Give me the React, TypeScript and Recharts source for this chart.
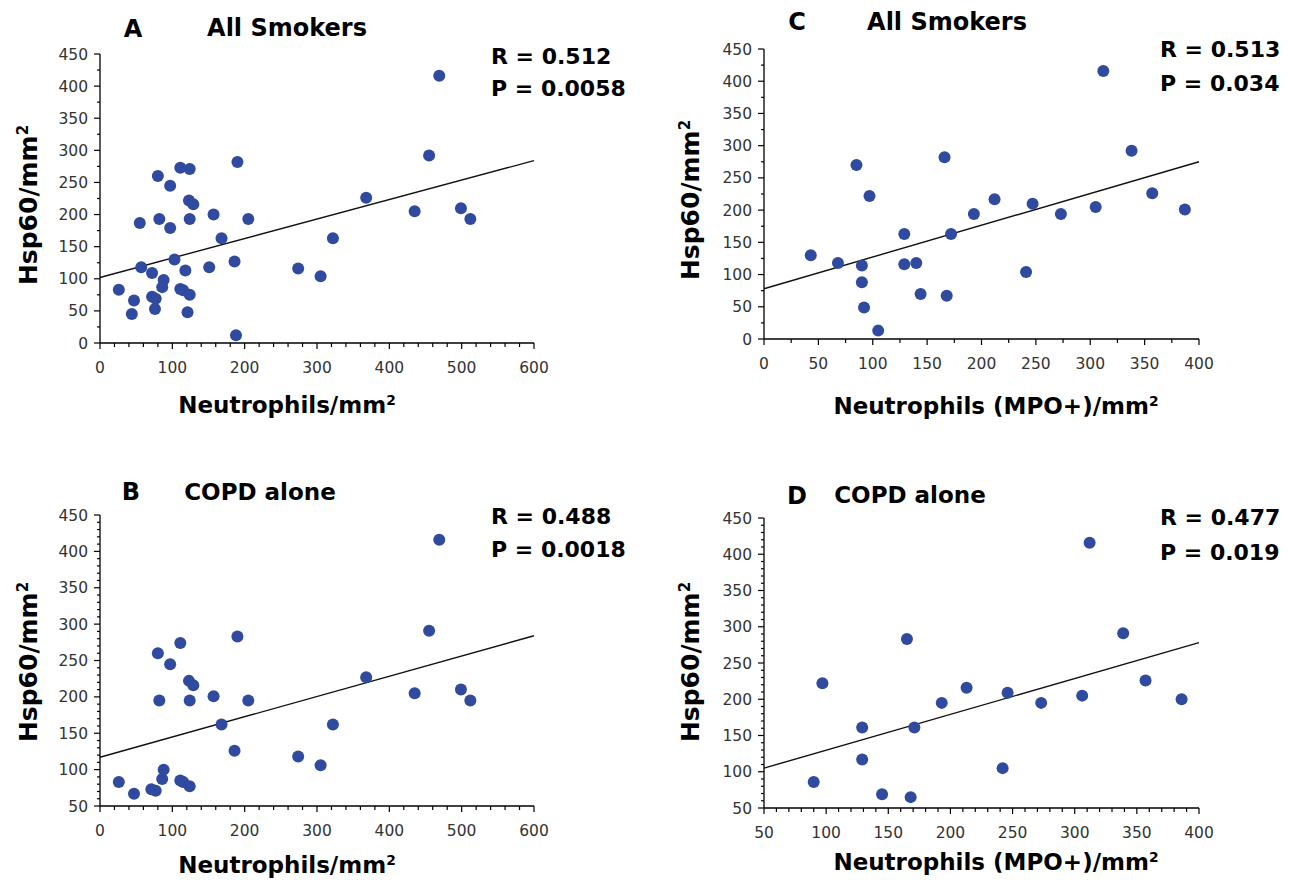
import React from 'react';
import { ScatterChart, Scatter, XAxis, YAxis, ReferenceLine } from 'recharts';

const W = 1289;
const H = 885;
const FONT = '"DejaVu Sans", "Liberation Sans", Arial, sans-serif';
const DOT = '#2F4A9E';

// Panel A: All Smokers, Neutrophils/mm2 vs Hsp60/mm2
const aX = [469, 455, 190, 111, 124, 80, 97, 123, 129, 368, 435, 499, 512, 157, 205, 124, 82, 55, 97, 168, 322, 103, 186, 57, 151, 274, 118, 72, 305, 88, 86, 26, 111, 115, 124, 72, 77, 47, 76, 121, 44, 188];
const aY = [416, 292, 282, 273, 271, 260, 245, 222, 216, 226, 205, 210, 193, 200, 193, 193, 193, 187, 179, 163, 163, 130, 127, 118, 118, 116, 113, 109, 104, 98, 87, 83, 84, 82, 75, 72, 69, 66, 53, 48, 45, 12];
const aLineX = [0, 600];
const aLineY = [102, 284];

// Panel B: COPD alone, Neutrophils/mm2
const bX = [469, 455, 190, 111, 80, 97, 123, 129, 368, 435, 499, 512, 157, 205, 124, 82, 168, 322, 186, 274, 305, 88, 86, 26, 111, 115, 124, 71, 77, 47];
const bY = [416, 291, 283, 274, 260, 245, 222, 216, 227, 205, 210, 195, 201, 195, 195, 195, 162, 162, 126, 118, 106, 100, 87, 83, 85, 83, 77, 73, 71, 67];
const bLineX = [0, 600];
const bLineY = [117, 284];

// Panel C: All Smokers, Neutrophils (MPO+)/mm2
const cX = [312, 338, 166, 85, 97, 357, 212, 247, 193, 273, 305, 387, 129, 172, 43, 68, 90, 129, 140, 90, 241, 144, 168, 92, 105];
const cY = [416, 292, 282, 270, 222, 226, 217, 210, 194, 194, 205, 201, 163, 163, 130, 118, 114, 116, 118, 88, 104, 70, 67, 49, 13];
const cLineX = [0, 400];
const cLineY = [78, 275];

// Panel D: COPD alone, Neutrophils (MPO+)/mm2
const dX = [312, 339, 165, 97, 357, 213, 246, 193, 273, 306, 386, 129, 171, 129, 242, 90, 145, 168];
const dY = [416, 291, 283, 222, 226, 216, 209, 195, 195, 205, 200, 161, 161, 117, 105, 86, 69, 65];
const dLineX = [50, 400];
const dLineY = [105, 278];

const stats = {
  A: ['R = 0.512', 'P = 0.0058'],
  B: ['R = 0.488', 'P = 0.0018'],
  C: ['R = 0.513', 'P = 0.034'],
  D: ['R = 0.477', 'P = 0.019'],
};

const range = (s: number, e: number, st: number) => {
  const r: number[] = [];
  for (let v = s; v <= e + 1e-9; v += st) r.push(Math.round(v * 1000) / 1000);
  return r;
};
const isMaj = (v: number, step: number) => Math.abs(v / step - Math.round(v / step)) < 1e-6;

type Rect = { l: number; r: number; t: number; b: number };

function Panel(props: {
  xs: number[]; ys: number[]; lineX: number[]; lineY: number[];
  xDomain: [number, number]; yDomain: [number, number];
  xMajor: number; xMinor: number; yMajor: number; yMinor: number; plot: Rect;
}) {
  const { xs, ys, lineX, lineY, xDomain, yDomain, xMajor, xMinor, yMajor, yMinor, plot } = props;
  const data = xs.map((x, i) => ({ x, y: ys[i] }));
  const xTicks = range(xDomain[0], xDomain[1], xMinor);
  const yTicks = range(yDomain[0], yDomain[1], yMinor);

  const XTick = (p: any) => {
    const v = p.payload.value;
    const maj = isMaj(v, xMajor);
    return (
      <g>
        <line x1={p.x} x2={p.x} y1={p.y} y2={p.y + (maj ? 6 : 4)} stroke="#000" strokeWidth={1.2} />
        {maj && (
          <text x={p.x} y={p.y + 30} textAnchor="middle" fontFamily={FONT} fontSize={15.5} fill="#333">
            {v}
          </text>
        )}
      </g>
    );
  };
  const YTick = (p: any) => {
    const v = p.payload.value;
    const maj = isMaj(v, yMajor);
    return (
      <g>
        <line x1={p.x} x2={p.x - (maj ? 6 : 3)} y1={p.y} y2={p.y} stroke="#000" strokeWidth={1.2} />
        {maj && (
          <text x={p.x - 12} y={p.y + 5.5} textAnchor="end" fontFamily={FONT} fontSize={15.5} fill="#333">
            {v}
          </text>
        )}
      </g>
    );
  };

  return (
    <div style={{ position: 'absolute', left: 0, top: 0, pointerEvents: 'none' }}>
      <ScatterChart
        width={W}
        height={H}
        margin={{ top: plot.t, left: plot.l - 60, right: W - plot.r, bottom: H - plot.b - 30 }}
      >
        <XAxis
          type="number"
          dataKey="x"
          domain={xDomain}
          ticks={xTicks}
          interval={0}
          height={30}
          tickSize={0}
          tickMargin={0}
          tickLine={false}
          tick={XTick}
          axisLine={{ stroke: '#000', strokeWidth: 1.3 }}
          allowDataOverflow
        />
        <YAxis
          type="number"
          dataKey="y"
          domain={yDomain}
          ticks={yTicks}
          interval={0}
          width={60}
          tickSize={0}
          tickMargin={0}
          tickLine={false}
          tick={YTick}
          axisLine={{ stroke: '#000', strokeWidth: 1.3 }}
          allowDataOverflow
        />
        <ReferenceLine
          segment={[{ x: lineX[0], y: lineY[0] }, { x: lineX[1], y: lineY[1] }]}
          stroke="#111"
          strokeWidth={1.4}
        />
        <Scatter
          data={data}
          isAnimationActive={false}
          shape={(p: any) => <circle cx={p.cx} cy={p.cy} r={6} fill={DOT} />}
        />
      </ScatterChart>
    </div>
  );
}

const Txt = (p: { x: number; y: number; size: number; left?: boolean; rotate?: boolean; children: React.ReactNode }) => (
  <div
    style={{
      position: 'absolute',
      left: p.x,
      top: p.y,
      transform: p.rotate
        ? 'translate(-50%,-50%) rotate(-90deg)'
        : p.left
        ? 'translate(0,-50%)'
        : 'translate(-50%,-50%)',
      fontFamily: FONT,
      fontWeight: 700,
      fontSize: p.size,
      lineHeight: 1,
      whiteSpace: 'nowrap',
      color: '#000',
    }}
  >
    {p.children}
  </div>
);

const Sup = () => <span style={{ fontSize: '0.6em', verticalAlign: '0.55em' }}>2</span>;

export default function App() {
  return (
    <div style={{ position: 'absolute', left: 0, top: 0, width: W, height: H, background: '#fff', overflow: 'hidden' }}>
      <Panel xs={aX} ys={aY} lineX={aLineX} lineY={aLineY} xDomain={[0, 600]} yDomain={[0, 450]}
        xMajor={100} xMinor={20} yMajor={50} yMinor={25} plot={{ l: 100, r: 534, t: 54, b: 343 }} />
      <Panel xs={bX} ys={bY} lineX={bLineX} lineY={bLineY} xDomain={[0, 600]} yDomain={[50, 450]}
        xMajor={100} xMinor={20} yMajor={50} yMinor={10} plot={{ l: 100, r: 534, t: 515, b: 806 }} />
      <Panel xs={cX} ys={cY} lineX={cLineX} lineY={cLineY} xDomain={[0, 400]} yDomain={[0, 450]}
        xMajor={50} xMinor={25} yMajor={50} yMinor={25} plot={{ l: 764, r: 1199, t: 49, b: 339 }} />
      <Panel xs={dX} ys={dY} lineX={dLineX} lineY={dLineY} xDomain={[50, 400]} yDomain={[50, 450]}
        xMajor={50} xMinor={10} yMajor={50} yMinor={10} plot={{ l: 764, r: 1199, t: 518, b: 808 }} />

      {/* Panel A texts */}
      <Txt x={133} y={29} size={24}>A</Txt>
      <Txt x={287} y={28} size={24}>All Smokers</Txt>
      <Txt x={491} y={57} size={22} left>{stats.A[0]}</Txt>
      <Txt x={491} y={89} size={22} left>{stats.A[1]}</Txt>
      <Txt x={28} y={205} size={25} rotate>Hsp60/mm<Sup /></Txt>
      <Txt x={287} y={405} size={23}>Neutrophils/mm<Sup /></Txt>

      {/* Panel B texts */}
      <Txt x={131} y={492} size={24}>B</Txt>
      <Txt x={260} y={492} size={23}>COPD alone</Txt>
      <Txt x={491} y={517} size={22} left>{stats.B[0]}</Txt>
      <Txt x={491} y={550} size={22} left>{stats.B[1]}</Txt>
      <Txt x={28} y={662} size={25} rotate>Hsp60/mm<Sup /></Txt>
      <Txt x={287} y={865} size={23}>Neutrophils/mm<Sup /></Txt>

      {/* Panel C texts */}
      <Txt x={797} y={22} size={24}>C</Txt>
      <Txt x={947} y={22} size={24}>All Smokers</Txt>
      <Txt x={1160} y={50} size={22} left>{stats.C[0]}</Txt>
      <Txt x={1160} y={84} size={22} left>{stats.C[1]}</Txt>
      <Txt x={690} y={200} size={25} rotate>Hsp60/mm<Sup /></Txt>
      <Txt x={996} y={406} size={23}>Neutrophils (MPO+)/mm<Sup /></Txt>

      {/* Panel D texts */}
      <Txt x={797} y={496} size={24}>D</Txt>
      <Txt x={910} y={495} size={23}>COPD alone</Txt>
      <Txt x={1160} y={518} size={22} left>{stats.D[0]}</Txt>
      <Txt x={1160} y={553} size={22} left>{stats.D[1]}</Txt>
      <Txt x={690} y={662} size={25} rotate>Hsp60/mm<Sup /></Txt>
      <Txt x={996} y={862} size={23}>Neutrophils (MPO+)/mm<Sup /></Txt>
    </div>
  );
}
